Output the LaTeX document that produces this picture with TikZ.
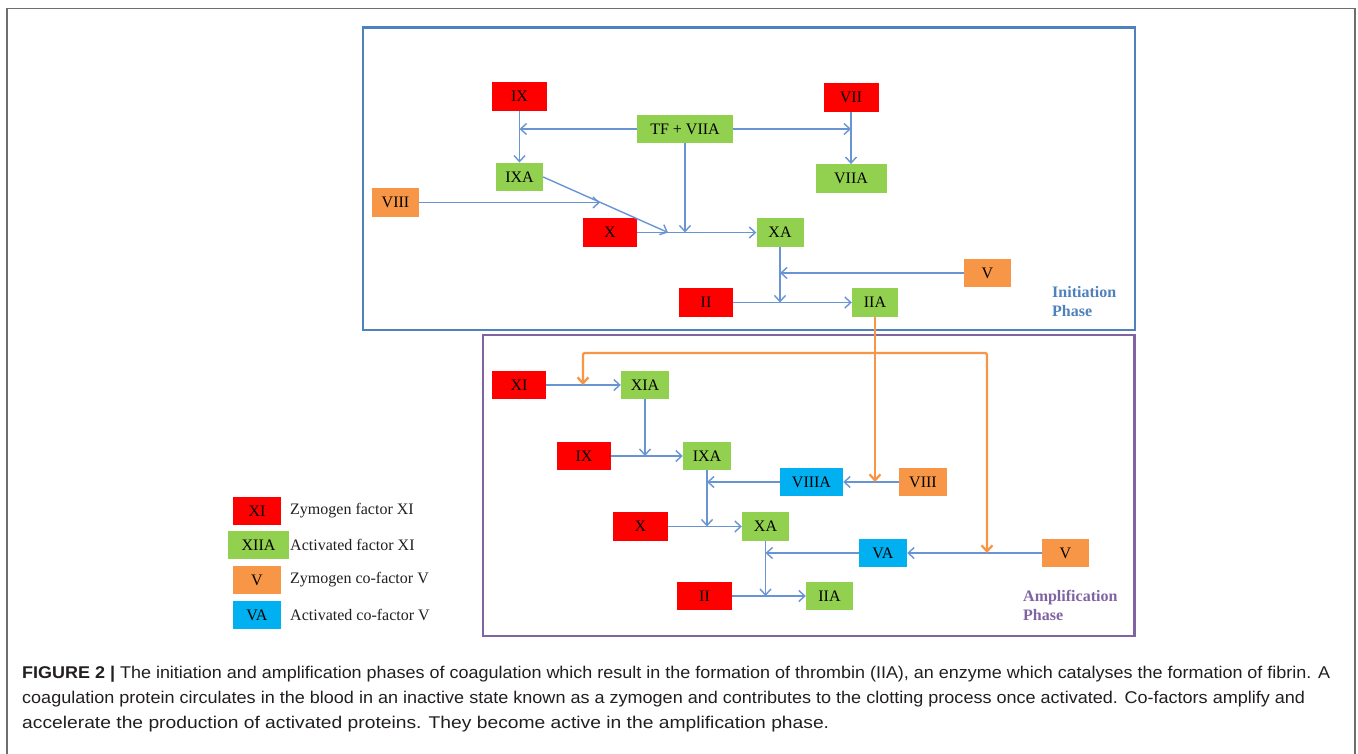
\documentclass[tikz,border=0pt]{standalone}
\usepackage{fontspec}
\setmainfont{Liberation Serif}
\newfontfamily\capfont{Liberation Sans}
\usetikzlibrary{arrows.meta}
\definecolor{zred}{RGB}{255,0,0}
\definecolor{zgreen}{RGB}{146,208,80}
\definecolor{zorange}{RGB}{247,150,70}
\definecolor{zblue}{RGB}{0,176,240}
\definecolor{initblue}{RGB}{79,129,189}
\definecolor{amppurple}{RGB}{128,100,162}
\definecolor{linkblue}{RGB}{104,148,212}
\definecolor{capgray}{RGB}{35,31,32}
\definecolor{framegray}{RGB}{110,110,110}
\begin{document}
\begin{tikzpicture}[x=1pt,y=-1pt,
  >={Straight Barb[length=6pt,width=11pt]},
  fac/.style={minimum height=28.5pt, inner sep=0pt, text=black, font=\fontsize{16}{16}\selectfont},
  zym/.style={fac, fill=zred},
  act/.style={fac, fill=zgreen},
  cof/.style={fac, fill=zorange},
  acof/.style={fac, fill=zblue},
  arr/.style={draw=linkblue, line width=1.4pt, ->},
  oarr/.style={draw=zorange, line width=2.3pt, ->},
  phase/.style={anchor=north west, inner sep=0pt, align=left, font=\bfseries\fontsize{16}{18.5}\selectfont},
  legtext/.style={anchor=west, inner sep=0pt, text=capgray, font=\fontsize{16}{16}\selectfont},
  capline/.style={anchor=base west, inner sep=0pt, text=capgray, font=\capfont\fontsize{17}{17}\selectfont}
]
\useasboundingbox (0,0) rectangle (1358,754);
\fill[white] (0,0) rectangle (1358,754);
% outer frame
\draw[framegray, line width=1.4pt] (7,754) -- (7,8.5) -- (1355,8.5) -- (1355,754);
% phase boxes
\draw[initblue, line width=2.5pt] (363,27.5) rectangle (1135,330);
\draw[amppurple, line width=2.5pt] (483,335) rectangle (1134.5,636);

% ---------- initiation phase ----------
\node[zym, minimum width=55pt] (ix1) at (519.5,96.5) {IX};
\node[act, minimum width=96pt] (tf) at (685,129) {TF + VIIA};
\node[zym, minimum width=55pt] (vii) at (851,97.5) {VII};
\node[act, minimum width=47pt] (ixa1) at (519.5,177) {IXA};
\node[act, minimum width=71pt] (viia) at (851,178.5) {VIIA};
\node[cof, minimum width=47pt] (viii1) at (395.5,202.5) {VIII};
\node[zym, minimum width=54pt] (x1) at (610,232.5) {X};
\node[act, minimum width=47pt] (xa1) at (780,232.5) {XA};
\node[cof, minimum width=47pt] (v1) at (987.5,273) {V};
\node[zym, minimum width=54pt] (ii1) at (706,302.5) {II};
\node[act, minimum width=46pt] (iia1) at (875,302.5) {IIA};
\node[phase, text=initblue] (initlab) at (1052,286.5) {Initiation\\Phase};

\coordinate (jd) at (668,232.5);
\coordinate (jv) at (600,202.5);

\draw[arr] (ix1.south) -- (ixa1.north);
\draw[arr] (tf.west) -- (tf.west -| ix1.south);
\draw[arr] (tf.east) -- (tf.east -| vii.south);
\draw[arr] (vii.south) -- (viia.north);
\draw[arr] (tf.south) -- (tf.south |- x1.east);
\draw[arr] (x1.east) -- (xa1.west);
\draw[arr] (ixa1.east) -- (jd);
\draw[arr] (viii1.east) -- (jv);
\draw[arr] (xa1.south) -- (xa1.south |- ii1.east);
\draw[arr] (v1.west) -- (v1.west -| xa1.south);
\draw[arr] (ii1.east) -- (iia1.west);

% ---------- amplification phase ----------
\node[zym, minimum width=54pt] (xi2) at (519,385) {XI};
\node[act, minimum width=48pt] (xia) at (645,385) {XIA};
\node[zym, minimum width=54pt] (ix2) at (584,456) {IX};
\node[act, minimum width=48pt] (ixa2) at (707,456) {IXA};
\node[acof, minimum width=63pt] (viiia) at (811.5,482) {VIIIA};
\node[cof, minimum width=48pt] (viii2) at (923,482) {VIII};
\node[zym, minimum width=55pt] (x2) at (640.5,526.5) {X};
\node[act, minimum width=47pt] (xa2) at (765.5,526.5) {XA};
\node[acof, minimum width=48pt] (va) at (883,553) {VA};
\node[cof, minimum width=47pt] (v2) at (1065.5,553) {V};
\node[zym, minimum width=55pt] (ii2) at (704.5,596) {II};
\node[act, minimum width=47pt] (iia2) at (829.5,596) {IIA};
\node[phase, text=amppurple] (amplab) at (1023,590.5) {Amplification\\Phase};

\draw[arr] (xi2.east) -- (xia.west);
\draw[arr] (xia.south) -- (xia.south |- ix2.east);
\draw[arr] (ix2.east) -- (ixa2.west);
\draw[arr] (ixa2.south) -- (ixa2.south |- x2.east);
\draw[arr] (viiia.west) -- (viiia.west -| ixa2.south);
\draw[arr] (viii2.west) -- (viiia.east);
\draw[arr] (x2.east) -- (xa2.west);
\draw[arr] (xa2.south) -- (xa2.south |- ii2.east);
\draw[arr] (va.west) -- (va.west -| xa2.south);
\draw[arr] (v2.west) -- (va.east);
\draw[arr] (ii2.east) -- (iia2.west);

% thrombin feedback (orange)
\coordinate (ol) at (583,353);
\coordinate (or) at (987,353);
\draw[oarr] (iia1.south) -- (iia1.south |- viii2.west);
\draw[oarr, <->, rounded corners=2pt] (ol |- xi2.east) -- (ol) -- (or) -- (or |- v2.west);

% ---------- legend ----------
\node[zym, minimum width=48pt] (lxi) at (257,511) {XI};
\node[act, minimum width=61pt] (lxiia) at (258.5,545) {XIIA};
\node[cof, minimum width=48pt] (lv) at (257,580) {V};
\node[acof, minimum width=48pt] (lva) at (257,615) {VA};
\node[legtext] (txi) at (290,511) {Zymogen factor XI};
\node[legtext] (txiia) at (290,545) {Activated factor XI};
\node[legtext] (tv) at (290,580) {Zymogen co-factor V};
\node[legtext] (tva) at (290,615) {Activated co-factor V};

% ---------- caption ----------
\node[capline] (cap1) at (22,678) {\resizebox{1308pt}{\height}{\textbf{FIGURE 2 |} The initiation and amplification phases of coagulation which result in the formation of thrombin (IIA), an enzyme which catalyses the formation of fibrin. A}};
\node[capline] (cap2) at (22,703.5) {\resizebox{1283pt}{\height}{coagulation protein circulates in the blood in an inactive state known as a zymogen and contributes to the clotting process once activated. Co-factors amplify and}};
\node[capline] (cap3) at (22,728.5) {\resizebox{807pt}{\height}{accelerate the production of activated proteins. They become active in the amplification phase.}};
\end{tikzpicture}
\end{document}
